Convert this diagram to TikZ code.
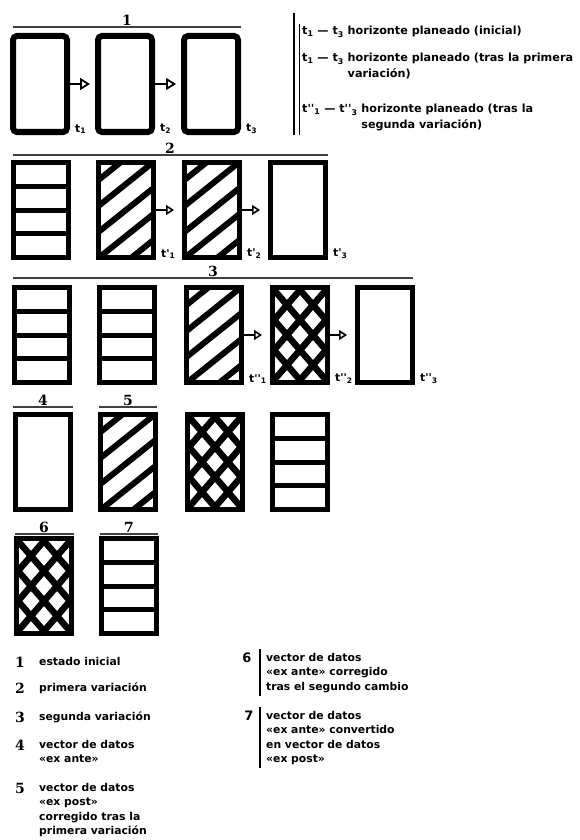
\documentclass[tikz,border=0pt]{standalone}
\usepackage{fontspec}
\usepackage{tikz}
\usetikzlibrary{arrows.meta,calc}
\newfontfamily\lgdfont{DejaVu Sans}
\newfontfamily\digitfont{DejaVu Serif}

\begin{document}
\begin{tikzpicture}[x=1pt,y=-1pt,
  every node/.style={font=\lgdfont\bfseries\fontsize{10.8}{14.5}\selectfont,inner sep=0pt},
  key/.style={font=\lgdfont\bfseries\fontsize{11.2}{15.5}\selectfont},
  num/.style={font=\digitfont\bfseries\fontsize{14}{14}\selectfont},
  snum/.style={font=\lgdfont\bfseries\fontsize{13}{13}\selectfont},
  rule/.style={line width=1.5pt,black!75},
  box/.style={draw,line width=5pt,minimum width=55pt,minimum height=95pt},
  firstbox/.style={box,line width=6pt,rounded corners=4pt,minimum width=54pt,minimum height=96pt},
  bands/.style={box,path picture={
    \foreach \f in {-1,0,1}
      \draw[line width=5pt] ([yshift=\f*23.75pt]path picture bounding box.west) -- ([yshift=\f*23.75pt]path picture bounding box.east);}},
  slant/.style={box,path picture={
    \foreach \f in {-2,...,2}
      \draw[line width=6pt] ($(path picture bounding box.center)+(-45,\f*26+36)$) -- ++(90,-72);}},
  lattice/.style={box,path picture={
    \foreach \f in {-3,...,2} {
      \draw[line width=6.5pt] ($(path picture bounding box.center)+(\f*26-32,-52)$) -- ++(90,104);
      \draw[line width=6.5pt] ($(path picture bounding box.center)+(\f*26-32,52)$) -- ++(90,-104);}}},
  fatarrow/.style={line width=2.5pt,-{Triangle[open,length=10pt,width=12pt,line width=1.8pt]},shorten >=5pt},
  thinarrow/.style={line width=1.6pt,-{Triangle[open,length=8pt,width=10pt]},shorten >=8pt},
  tlabel/.style={anchor=south west,xshift=5pt,yshift=1pt}]
  \useasboundingbox (0,0) rectangle (579,840);

  \draw[rule] (13,27) -- (241,27);
  \node[num,anchor=south] (h1) at (127,26) {1};
  \node[firstbox] (a1) at (40,84) {};
  \node[firstbox] (a2) at (125,84) {};
  \node[firstbox] (a3) at (211,84) {};
  \draw[fatarrow] (a1) -- (a2);
  \draw[fatarrow] (a2) -- (a3);
  \node[tlabel] (ta1) at (a1.south east) {t\textsubscript{1}};
  \node[tlabel] (ta2) at (a2.south east) {t\textsubscript{2}};
  \node[tlabel] (ta3) at (a3.south east) {t\textsubscript{3}};

  \draw[line width=2.5pt] (294,13) -- (294,135);
  \draw[line width=1.2pt] (299.5,24) -- (299.5,135);
  \node[key,anchor=base west] (k1) at (302,35) {t\textsubscript{1} — t\textsubscript{3} horizonte planeado (inicial)};
  \node[key,anchor=base west] (k2) at (302,62) {t\textsubscript{1} — t\textsubscript{3} \begin{tabular}[t]{@{}l@{}}horizonte planeado (tras la primera\\variación)\end{tabular}};
  \node[key,anchor=base west] (k3) at (302,113) {t''\textsubscript{1} — t''\textsubscript{3} \begin{tabular}[t]{@{}l@{}}horizonte planeado (tras la\\segunda variación)\end{tabular}};

  \draw[rule] (13,155) -- (328,155);
  \node[num,anchor=south] (h2) at (170,154) {2};
  \node[bands] (b1) at (41,210) {};
  \node[slant] (b2) at (126,210) {};
  \node[slant] (b3) at (212,210) {};
  \node[box] (b4) at (298,210) {};
  \draw[thinarrow] (b2) -- (b3);
  \draw[thinarrow] (b3) -- (b4);
  \node[tlabel] (tb1) at (b2.south east) {t'\textsubscript{1}};
  \node[tlabel] (tb2) at (b3.south east) {t'\textsubscript{2}};
  \node[tlabel] (tb3) at (b4.south east) {t'\textsubscript{3}};

  \draw[rule] (13,278) -- (413,278);
  \node[num,anchor=south] (h3) at (213,277) {3};
  \node[bands] (c1) at (42,335) {};
  \node[bands] (c2) at (127,335) {};
  \node[slant] (c3) at (214,335) {};
  \node[lattice] (c4) at (300,335) {};
  \node[box] (c5) at (385,335) {};
  \draw[thinarrow] (c3) -- (c4);
  \draw[thinarrow] (c4) -- (c5);
  \node[tlabel] (tc1) at (c3.south east) {t''\textsubscript{1}};
  \node[tlabel] (tc2) at (c4.south east) {t''\textsubscript{2}};
  \node[tlabel] (tc3) at (c5.south east) {t''\textsubscript{3}};

  \draw[rule] (13,407) -- (73,407);
  \node[num,anchor=south] (h4) at (43,406) {4};
  \draw[rule] (99,407) -- (157,407);
  \node[num,anchor=south] (h5) at (128,406) {5};
  \node[box] (d1) at (43,462) {};
  \node[slant] (d2) at (128,462) {};
  \node[lattice] (d3) at (215,462) {};
  \node[bands] (d4) at (300,462) {};

  \draw[rule] (15,534) -- (74,534);
  \node[num,anchor=south] (h6) at (44,533) {6};
  \draw[rule] (100,534) -- (158,534);
  \node[num,anchor=south] (h7) at (129,533) {7};
  \node[lattice] (e1) at (44,586) {};
  \node[bands] (e2) at (129,586) {};

  \node[num,anchor=base] (n1) at (20,667) {1};
  \node[anchor=base west] (m1) at (39,665) {estado inicial};
  \node[num,anchor=base] (n2) at (20,693) {2};
  \node[anchor=base west] (m2) at (39,691) {primera variación};
  \node[num,anchor=base] (n3) at (20,722) {3};
  \node[anchor=base west] (m3) at (39,720) {segunda variación};
  \node[num,anchor=base] (n4) at (20,750) {4};
  \node[anchor=base west] (m4) at (39,748) {\begin{tabular}[t]{@{}l@{}}vector de datos\\«ex ante»\end{tabular}};
  \node[num,anchor=base] (n5) at (20,793) {5};
  \node[anchor=base west] (m5) at (39,791) {\begin{tabular}[t]{@{}l@{}}vector de datos\\«ex post»\\corregido tras la\\primera variación\end{tabular}};

  \node[snum,anchor=base] (n6) at (247,662) {6};
  \draw[line width=2.5pt] (260,649) -- (260,696);
  \node[anchor=base west] (m6) at (266,661) {\begin{tabular}[t]{@{}l@{}}vector de datos\\«ex ante» corregido\\tras el segundo cambio\end{tabular}};
  \node[snum,anchor=base] (n7) at (249,720) {7};
  \draw[line width=2.5pt] (260,707) -- (260,768);
  \node[anchor=base west] (m7) at (266,719) {\begin{tabular}[t]{@{}l@{}}vector de datos\\«ex ante» convertido\\en vector de datos\\«ex post»\end{tabular}};
\end{tikzpicture}
\end{document}
